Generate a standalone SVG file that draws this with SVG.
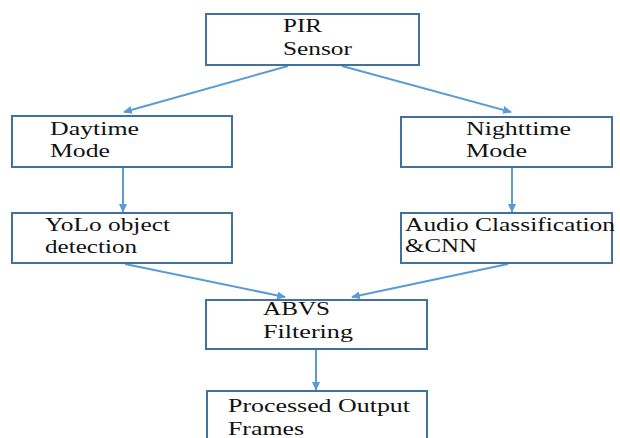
<svg xmlns="http://www.w3.org/2000/svg" width="620" height="438" viewBox="0 0 620 438">
<style>
.box{fill:#fff;stroke:#41719c;stroke-width:2}
.t{font-family:'Liberation Serif','Times New Roman',Tinos,'DejaVu Serif',serif;font-size:18.5px;fill:#111}
.c{stroke:#5b9bd5;stroke-width:2;fill:none;marker-end:url(#ah)}
</style>
<defs>
<marker id="ah" markerWidth="10" markerHeight="8" refX="8" refY="4" orient="auto" markerUnits="userSpaceOnUse">
<path d="M0,0 L9,4 L0,8 Z" fill="#5b9bd5"/>
</marker>
</defs>
<rect width="620" height="438" fill="#fff"/>
<g id="connectors">
<line class="c" x1="288" y1="66" x2="124" y2="112"/>
<line class="c" x1="342" y1="66" x2="511" y2="112"/>
<line class="c" x1="123" y1="168" x2="123" y2="212"/>
<line class="c" x1="512" y1="168" x2="512" y2="212"/>
<line class="c" x1="125" y1="264" x2="285" y2="297"/>
<line class="c" x1="508" y1="264" x2="352" y2="297"/>
<line class="c" x1="316" y1="350" x2="316" y2="390"/>
</g>
<g id="pir">
<rect class="box" x="206" y="14" width="213" height="51"/>
<text class="t" x="283" y="32" textLength="39" lengthAdjust="spacingAndGlyphs">PIR</text>
<text class="t" x="283" y="55" textLength="69" lengthAdjust="spacingAndGlyphs">Sensor</text>
</g>
<g id="daytime">
<rect class="box" x="12" y="116" width="220" height="51"/>
<text class="t" x="50" y="135" textLength="89" lengthAdjust="spacingAndGlyphs">Daytime</text>
<text class="t" x="50" y="157" textLength="60" lengthAdjust="spacingAndGlyphs">Mode</text>
</g>
<g id="nighttime">
<rect class="box" x="401" y="117" width="211" height="50"/>
<text class="t" x="466" y="135" textLength="105" lengthAdjust="spacingAndGlyphs">Nighttime</text>
<text class="t" x="466" y="157" textLength="61" lengthAdjust="spacingAndGlyphs">Mode</text>
</g>
<g id="yolo">
<rect class="box" x="12" y="213" width="220" height="50"/>
<text class="t" x="45" y="231" textLength="125" lengthAdjust="spacingAndGlyphs">YoLo object</text>
<text class="t" x="45" y="253" textLength="92" lengthAdjust="spacingAndGlyphs">detection</text>
</g>
<g id="audio">
<rect class="box" x="401" y="213" width="211" height="50"/>
<text class="t" x="405" y="231" textLength="210" lengthAdjust="spacingAndGlyphs">Audio Classification</text>
<text class="t" x="405" y="252" textLength="72" lengthAdjust="spacingAndGlyphs">&amp;CNN</text>
</g>
<g id="abvs">
<rect class="box" x="206" y="300" width="221" height="49"/>
<text class="t" x="263" y="315" textLength="67" lengthAdjust="spacingAndGlyphs">ABVS</text>
<text class="t" x="263" y="338" textLength="90" lengthAdjust="spacingAndGlyphs">Filtering</text>
</g>
<g id="output">
<rect class="box" x="207" y="391" width="220" height="60"/>
<text class="t" x="228" y="412" textLength="182" lengthAdjust="spacingAndGlyphs">Processed Output</text>
<text class="t" x="228" y="435" textLength="76" lengthAdjust="spacingAndGlyphs">Frames</text>
</g>
</svg>
